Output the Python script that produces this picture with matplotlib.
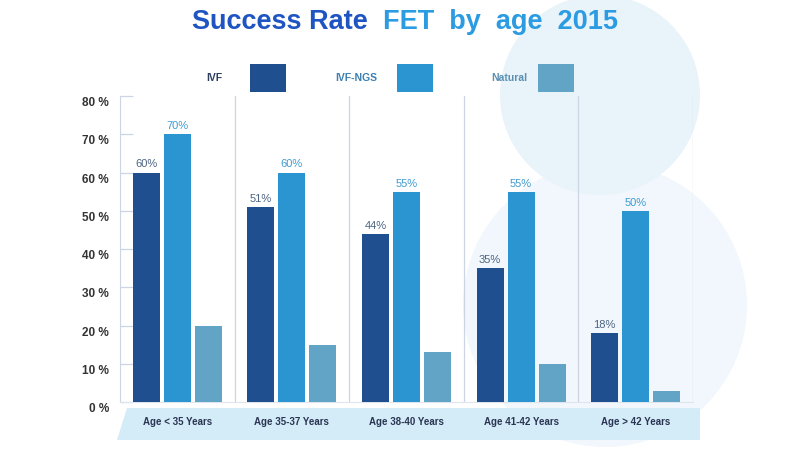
import numpy as np
import matplotlib
matplotlib.use('Agg')
import matplotlib.pyplot as plt
from matplotlib.patches import Rectangle, Polygon, Ellipse
from matplotlib.transforms import ScaledTranslation

# data
groups = ['Age < 35 Years', 'Age 35-37 Years', 'Age 38-40 Years',
          'Age 41-42 Years', 'Age > 42 Years']
ivf = [60, 51, 44, 35, 18]
ivf_ngs = [70, 60, 55, 55, 50]
natural = [20, 15, 13, 10, 3]
series_names = ['IVF', 'IVF-NGS', 'Natural']
yticks = [0, 10, 20, 30, 40, 50, 60, 70, 80]

COLORS = ['#1f4f8f', '#2a95d1', '#62a4c6']
FONT = ['Liberation Sans', 'DejaVu Sans']
NARROW = ['Liberation Sans Narrow', 'Liberation Sans', 'DejaVu Sans']

W, H = 800, 451


def fx(px):
    return px / W


def fy(py):
    return 1 - py / H


def circle(fig, cx, cy, r, color):
    # round in pixels, so width and height differ in figure fraction
    fig.patches.append(Ellipse((fx(cx), fy(cy)), 2 * r / W, 2 * r / H,
                               transform=fig.transFigure, facecolor=color,
                               edgecolor='none', zorder=0))


def main():
    fig = plt.figure(figsize=(8, 4.51), dpi=100)
    fig.patch.set_facecolor('white')

    # faint background circles
    circle(fig, 605, 305, 142, '#f1f7fc')
    circle(fig, 600, 95, 100, '#e9f3fa')

    # light blue band behind the category labels
    fig.patches.append(Polygon([(fx(127), fy(408)), (fx(700), fy(408)),
                                (fx(700), fy(440)), (fx(117), fy(440))],
                               closed=True, transform=fig.transFigure,
                               facecolor='#d4ebf8', edgecolor='none', zorder=1))

    ax = fig.add_axes([fx(120), 49 / H, fx(693) - fx(120), 306 / H])
    ax.set_facecolor('none')
    ax.set_zorder(2)

    x = np.arange(len(groups))
    step = 0.27
    width = 0.235
    for i, (vals, col) in enumerate(zip([ivf, ivf_ngs, natural], COLORS)):
        ax.bar(x + (i - 1) * step, vals, width, color=col, edgecolor='none', zorder=3)

    for xi, v in zip(x, ivf):
        ax.text(xi - step, v + 0.8, f'{v}%', ha='center', va='bottom',
                fontsize=8, color='#4d6482', family=NARROW, zorder=4)
    for xi, v in zip(x, ivf_ngs):
        ax.text(xi, v + 0.8, f'{v}%', ha='center', va='bottom',
                fontsize=8, color='#3e9bd2', family=NARROW, zorder=4)

    # group separators
    for s in np.arange(0.5, len(groups) + 0.5, 1.0):
        ax.axvline(s, color='#cdd5e4', lw=0.9, zorder=1)

    ax.set_xlim(-0.5, len(groups) - 0.5)
    ax.set_ylim(0, 80)
    ax.set_yticks(yticks)
    ax.set_yticklabels([f'{t} %' for t in yticks])
    ax.tick_params(axis='y', direction='in', length=9.5, width=0.9,
                   color='#cdd5e4', pad=8, labelsize=8.5, labelcolor='#333333')
    for lab in ax.get_yticklabels():
        lab.set_fontweight('bold')
        lab.set_family(FONT)
        lab.set_transform(lab.get_transform() +
                          ScaledTranslation(0, -4 / 72, fig.dpi_scale_trans))

    ax.set_xticks(x)
    ax.set_xticklabels(groups)
    ax.tick_params(axis='x', length=0, pad=11, labelsize=7, labelcolor='#2a3552')
    for lab in ax.get_xticklabels():
        lab.set_fontweight('bold')
        lab.set_family(FONT)

    for side in ['top', 'right']:
        ax.spines[side].set_visible(False)
    ax.spines['left'].set_color('#cdd5e4')
    ax.spines['bottom'].set_color('#dfe5ef')

    # title in two colours
    fig.text(fx(192), fy(22), 'Success Rate', fontsize=19.5, fontweight='bold',
             color='#1f55c2', family=FONT, va='center', ha='left')
    fig.text(fx(383), fy(22), 'FET  by  age  2015', fontsize=19.5, fontweight='bold',
             color='#2b9be2', family=FONT, va='center', ha='left')

    # legend: label then box
    leg_text_right = [222, 377, 527]
    leg_box_left = [250, 397, 538]
    leg_text_colors = ['#2d3e5e', '#3d80b3', '#5a90b4']
    for name, tr, bl, col, tc in zip(series_names, leg_text_right, leg_box_left,
                                     COLORS, leg_text_colors):
        fig.text(fx(tr), fy(78), name, fontsize=7.5, fontweight='bold', color=tc,
                 family=FONT, ha='right', va='center')
        fig.patches.append(Rectangle((fx(bl), fy(92)), 36 / W, 28 / H,
                                     transform=fig.transFigure, facecolor=col,
                                     edgecolor='none', zorder=3))

    fig.savefig('out.png', dpi=100)


if __name__ == '__main__':
    main()
